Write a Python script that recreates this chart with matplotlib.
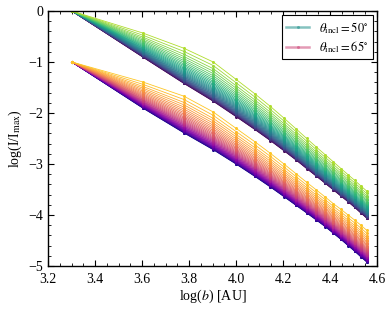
import numpy as np
import matplotlib
matplotlib.use('Agg')
import matplotlib.pyplot as plt
from matplotlib.lines import Line2D
from matplotlib.ticker import MultipleLocator

plt.rcParams['font.family'] = ['Liberation Serif', 'DejaVu Serif']
plt.rcParams['mathtext.fontset'] = 'stix'

# impact parameter b in AU (sampled points)
b_au = [2000, 4000, 6000, 8000, 10000, 12000, 14000, 16000, 18000,
        20000, 22000, 24000, 26000, 28000, 30000, 32000, 34000, 36000]

# envelope curves of each family, log(I/I_max)
incl50_low = [0.00, -0.90, -1.42, -1.77, -2.07, -2.32, -2.54, -2.74, -2.92,
              -3.09, -3.24, -3.38, -3.51, -3.63, -3.74, -3.85, -3.96, -4.06]
incl50_high = [0.00, -0.43, -0.73, -1.00, -1.34, -1.62, -1.87, -2.10, -2.31,
               -2.50, -2.67, -2.82, -2.96, -3.09, -3.21, -3.32, -3.43, -3.53]
incl65_low = [-1.00, -1.90, -2.39, -2.72, -3.00, -3.24, -3.45, -3.64, -3.81,
              -3.96, -4.10, -4.23, -4.36, -4.48, -4.60, -4.71, -4.82, -4.92]
incl65_high = [-1.00, -1.39, -1.67, -1.98, -2.30, -2.56, -2.79, -3.00, -3.19,
               -3.36, -3.51, -3.65, -3.78, -3.89, -4.00, -4.10, -4.20, -4.30]

# relative position of each curve inside the band (denser at the bottom)
band_pos = [0.0, 0.008, 0.018, 0.03, 0.043, 0.057, 0.072, 0.088, 0.105, 0.123,
            0.142, 0.162, 0.183, 0.205, 0.228, 0.252, 0.278, 0.305, 0.334, 0.365,
            0.398, 0.433, 0.47, 0.51, 0.553, 0.6, 0.65, 0.705, 0.765, 0.83,
            0.91, 1.0]

log_b = np.log10(b_au)

fig = plt.figure(figsize=(3.91, 3.10), dpi=100)
ax = fig.add_axes([0.123, 0.142, 0.841, 0.8225])


def draw_family(low, high, cmap):
    low = np.array(low)
    high = np.array(high)
    n = len(band_pos)
    for k, f in enumerate(band_pos):
        y = low + f * (high - low)
        c = cmap(0.88 * k / (n - 1))
        ax.plot(log_b, y, '-', color=c, lw=0.6, marker='o', ms=2.2, mew=0)


draw_family(incl50_low, incl50_high, plt.cm.viridis)
draw_family(incl65_low, incl65_high, plt.cm.plasma)

ax.set_xlim(3.2, 4.6)
ax.set_ylim(-5, 0)
ax.xaxis.set_major_locator(MultipleLocator(0.2))
ax.xaxis.set_minor_locator(MultipleLocator(0.05))
ax.yaxis.set_major_locator(MultipleLocator(1))
ax.yaxis.set_minor_locator(MultipleLocator(0.2))
ax.xaxis.set_major_formatter(plt.FuncFormatter(lambda v, p: f'{v:.1f}'))
ax.yaxis.set_major_formatter(plt.FuncFormatter(lambda v, p: f'{v:.0f}'.replace('-', '\u2212')))
ax.tick_params(which='both', direction='in', top=True, right=True, labelsize=10)
ax.tick_params(axis='x', which='major', pad=5)
ax.tick_params(which='major', length=4, width=0.8)
ax.tick_params(which='minor', length=2, width=0.6)
for s in ax.spines.values():
    s.set_linewidth(1.0)

ax.set_xlabel(r'log($b$) [AU]', fontsize=10, labelpad=1)
ax.set_ylabel(r'log(I/I$_{\rm max}$)', fontsize=10, labelpad=3)

handles = [
    Line2D([], [], color=plt.cm.viridis(0.5), lw=1.8, alpha=0.55,
           marker='o', ms=2.2, mfc=plt.cm.viridis(0.5), mec='none'),
    Line2D([], [], color=plt.cm.plasma(0.5), lw=1.8, alpha=0.55,
           marker='o', ms=2.2, mfc=plt.cm.plasma(0.5), mec='none'),
]
labels = [r'$\theta_{\rm incl} = 50^{\circ}$', r'$\theta_{\rm incl} = 65^{\circ}$']
leg = ax.legend(handles, labels, loc='upper right', fontsize=9, numpoints=1,
                fancybox=False, edgecolor='black', framealpha=1,
                handlelength=1.8, handletextpad=0.8, borderpad=0.35,
                labelspacing=0.3, borderaxespad=0.35)
leg.get_frame().set_linewidth(0.8)

fig.savefig('out.png', dpi=100)
